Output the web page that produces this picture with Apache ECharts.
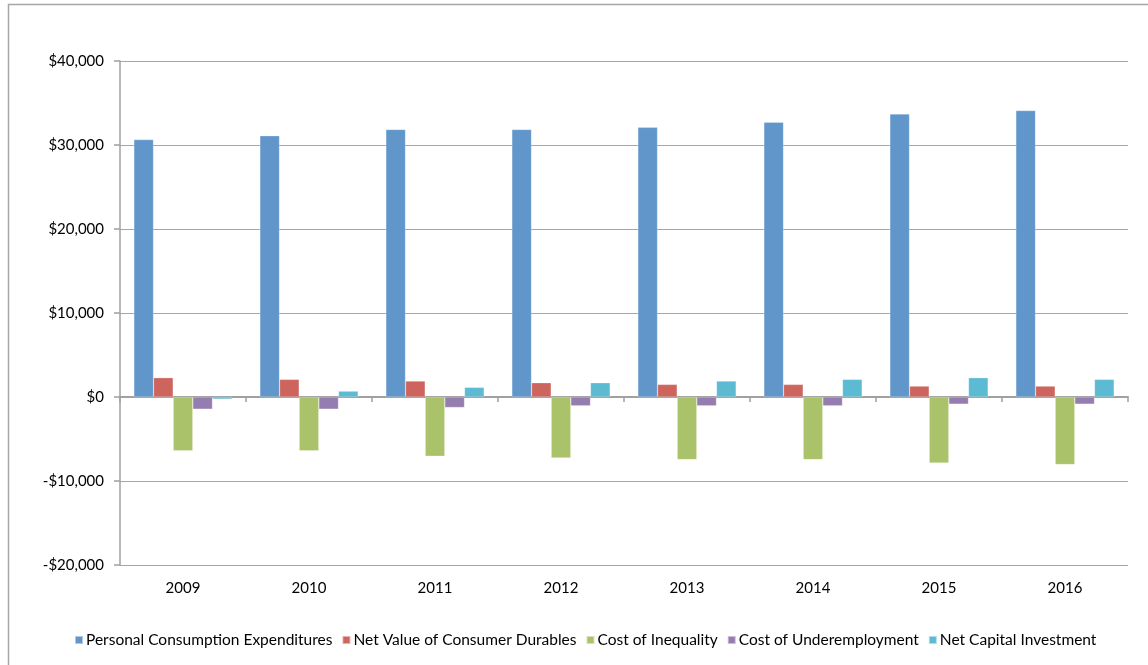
<!DOCTYPE html>
<html><head><meta charset="utf-8">
<script src="https://cdn.jsdelivr.net/npm/echarts@6/dist/echarts.min.js"></script>
<style>html,body{margin:0;padding:0;background:#fff;}#c{width:1148px;height:665px;}</style>
</head><body><div id="c"></div>
<script>
const categories = ['2009','2010','2011','2012','2013','2014','2015','2016'];
const personalConsumption = [30650, 31100, 31850, 31850, 32100, 32700, 33700, 34100];
const consumerDurables = [2300, 2100, 1900, 1700, 1500, 1500, 1300, 1300];
const costInequality = [-6400, -6400, -7050, -7250, -7450, -7450, -7850, -8050];
const costUnderemployment = [-1450, -1450, -1250, -1050, -1050, -1050, -850, -850];
const netCapitalInvestment = [-250, 700, 1150, 1700, 1900, 2100, 2300, 2100];
const seriesNames = ['Personal Consumption Expenditures','Net Value of Consumer Durables','Cost of Inequality','Cost of Underemployment','Net Capital Investment'];
const colors = ['#6096c9','#cd655e','#aac36b','#967db1','#5cbad3'];
const font = 'Lato, "Open Sans", sans-serif';

const chart = echarts.init(document.getElementById('c'), null, {renderer:'canvas'});
const dataArr = [personalConsumption, consumerDurables, costInequality, costUnderemployment, netCapitalInvestment];
chart.setOption({
  animation:false,
  color: colors,
  textStyle:{fontFamily:font},
  graphic:[{type:'rect', silent:true, shape:{x:8.5,y:4.5,width:1200,height:700}, style:{fill:'none', stroke:'#a6a6a6', lineWidth:1.5}}],
  grid:{left:120, right:20, top:61, bottom:100},
  legend:{
    bottom:12, left:69, itemWidth:8, itemHeight:8, itemGap:9, icon:'rect',
    textStyle:{fontFamily:font, fontSize:15.5, color:'#000', padding:[0,0,0,-2]},
    data: seriesNames
  },
  xAxis:[{
    type:'category', data:categories, boundaryGap:true,
    axisLine:{onZero:true, lineStyle:{color:'#a0a0a0', width:2}},
    axisTick:{show:true, interval:0, length:5, lineStyle:{color:'#a0a0a0', width:1.5}},
    axisLabel:{show:false}, splitLine:{show:false}
  },{
    type:'category', data:categories, position:'bottom',
    axisLine:{show:false, onZero:false}, axisTick:{show:false},
    axisLabel:{show:true, margin:16, fontFamily:font, fontSize:15, color:'#000'}
  }],
  yAxis:{
    type:'value', min:-20000, max:40000, interval:10000,
    axisLine:{show:true, lineStyle:{color:'#a0a0a0', width:1.5}},
    axisTick:{show:true, length:6, lineStyle:{color:'#a0a0a0', width:1.5}},
    splitLine:{lineStyle:{color:'#a6a6a6', width:1}},
    axisLabel:{margin:16, fontFamily:font, fontSize:15, color:'#000',
      formatter:v => (v<0?'-$':'$') + Math.abs(v).toLocaleString('en-US')}
  },
  series: seriesNames.map((n,i)=>({
    name:n, type:'bar', data:dataArr[i], xAxisIndex:0,
    barGap:'0%', barCategoryGap:'22%',
    itemStyle:{color:colors[i], borderColor:'rgba(255,255,255,0.5)', borderWidth:0.5}
  }))
});
</script></body></html>
